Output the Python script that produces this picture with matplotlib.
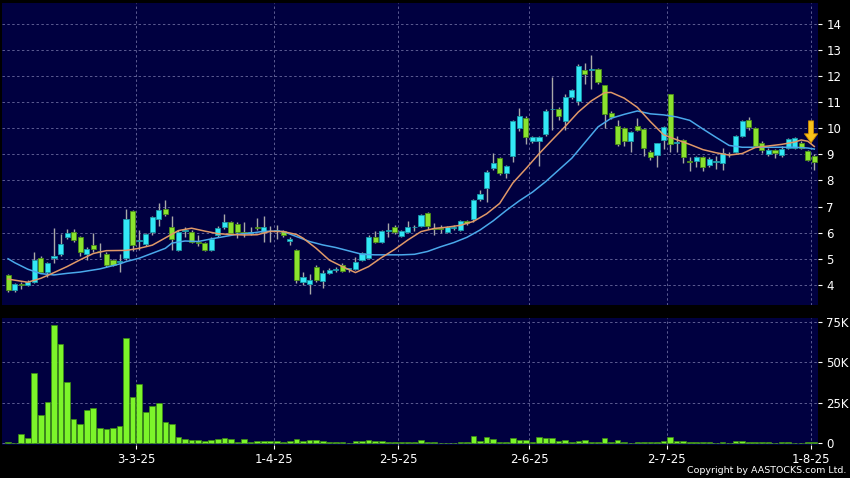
import numpy as np
import pandas as pd
import matplotlib
matplotlib.use("Agg")
import matplotlib.pyplot as plt

# HK trading days 3 Feb - 1 Aug 2025
holidays = ["2025-04-04", "2025-04-18", "2025-04-21", "2025-05-01", "2025-05-05", "2025-07-01"]
dates = pd.bdate_range("2025-02-03", "2025-08-01", freq="C", holidays=holidays)

opens = [4.36, 3.81, 4.05, 3.98, 4.10, 5.02, 4.51, 5.02, 5.18, 5.82,
         6.01, 5.83, 5.18, 5.51, 5.30, 5.18, 4.94, 4.87, 5.02, 6.84,
         5.68, 5.58, 6.02, 6.53, 6.90, 6.20, 5.34, 6.06, 6.02, 5.64,
         5.60, 5.34, 5.92, 6.20, 6.39, 6.32, 6.00, 6.00, 6.23, 6.02,
         6.05, 6.06, 6.07, 5.69, 5.34, 4.10, 4.04, 4.70, 4.13, 4.45,
         4.56, 4.77, 4.60, 4.60, 4.96, 5.02, 5.85, 5.66, 6.08, 6.20,
         5.88, 6.04, 6.20, 6.24, 6.75, 6.16, 6.16, 6.04, 6.18, 6.11,
         6.45, 6.52, 7.28, 7.70, 8.47, 8.85, 8.28, 8.92, 10.00, 10.39,
         9.52, 9.52, 9.78, 10.72, 10.73, 10.26, 11.19, 11.05, 12.21, 12.24,
         12.26, 11.64, 10.58, 10.10, 10.02, 9.51, 10.10, 9.97, 9.08, 8.97,
         9.56, 11.30, 9.44, 9.53, 8.74, 8.73, 8.89, 8.60, 8.72, 8.66,
         9.00, 9.08, 9.72, 10.32, 10.00, 9.43, 9.02, 9.15, 8.98, 9.24,
         9.24, 9.43, 9.11, 8.94]
highs = [4.41, 4.06, 4.10, 4.19, 5.25, 5.09, 4.89, 6.18, 5.95, 6.15,
         6.15, 5.88, 5.45, 6.00, 5.60, 5.25, 5.00, 5.20, 6.90, 6.86,
         6.10, 6.00, 6.62, 7.13, 7.26, 6.65, 6.10, 6.20, 6.10, 5.90,
         5.65, 5.85, 6.25, 6.70, 6.45, 6.40, 6.40, 6.20, 6.55, 6.62,
         6.25, 6.30, 6.12, 5.85, 5.36, 4.50, 4.40, 4.75, 4.58, 4.65,
         4.70, 4.82, 4.65, 5.08, 5.25, 5.90, 6.05, 6.10, 6.35, 6.30,
         6.10, 6.45, 6.30, 6.70, 6.78, 6.35, 6.30, 6.25, 6.30, 6.50,
         6.50, 7.30, 7.64, 8.40, 9.04, 8.90, 8.60, 10.30, 10.77, 10.45,
         9.72, 9.70, 10.72, 11.95, 10.80, 11.30, 11.50, 12.45, 12.50, 12.81,
         12.30, 11.65, 10.65, 10.30, 10.05, 9.90, 10.40, 10.00, 9.15, 9.42,
         10.10, 11.32, 9.70, 9.60, 8.90, 8.95, 8.95, 8.90, 8.95, 9.24,
         9.10, 9.75, 10.30, 10.42, 10.05, 9.50, 9.25, 9.20, 9.30, 9.62,
         9.65, 9.50, 9.15, 9.00]
lows = [3.72, 3.74, 3.85, 3.94, 4.06, 4.45, 4.32, 4.84, 5.10, 5.75,
        5.65, 5.10, 4.95, 5.25, 5.05, 4.70, 4.72, 4.50, 4.95, 5.30,
        5.35, 5.50, 5.90, 6.25, 6.65, 5.35, 5.30, 5.85, 5.60, 5.50,
        5.30, 5.30, 5.85, 6.15, 5.90, 5.80, 5.85, 5.90, 6.10, 5.66,
        5.65, 5.75, 5.85, 5.53, 4.06, 4.00, 3.64, 4.10, 3.87, 4.40,
        4.50, 4.50, 4.50, 4.55, 4.90, 4.98, 5.60, 5.60, 5.85, 5.95,
        5.85, 6.00, 6.05, 6.20, 6.15, 5.90, 6.00, 6.00, 6.10, 6.05,
        6.30, 6.40, 7.20, 7.19, 8.40, 8.20, 8.10, 8.72, 9.90, 9.39,
        9.45, 8.55, 9.70, 9.95, 10.30, 9.95, 11.10, 10.90, 11.70, 11.50,
        11.70, 10.00, 10.35, 9.30, 9.30, 9.10, 9.90, 8.95, 8.80, 8.52,
        9.20, 9.10, 9.10, 8.65, 8.35, 8.50, 8.35, 8.50, 8.45, 8.40,
        8.90, 9.05, 9.65, 9.95, 9.30, 9.05, 8.95, 8.85, 8.90, 9.20,
        9.20, 9.20, 8.75, 8.41]
closes = [3.81, 4.03, 3.98, 4.10, 4.96, 4.51, 4.83, 5.11, 5.56, 5.98,
          5.70, 5.26, 5.37, 5.37, 5.28, 4.76, 4.77, 4.90, 6.52, 5.53,
          5.70, 5.95, 6.58, 6.86, 6.72, 5.75, 6.04, 6.10, 5.63, 5.62,
          5.35, 5.76, 6.17, 6.40, 5.98, 6.02, 5.98, 6.00, 6.17, 6.20,
          6.06, 6.08, 5.92, 5.75, 4.19, 4.29, 4.19, 4.17, 4.45, 4.57,
          4.58, 4.54, 4.62, 4.89, 5.21, 5.83, 5.66, 6.07, 6.10, 6.04,
          6.07, 6.20, 6.22, 6.66, 6.24, 6.14, 6.14, 6.20, 6.20, 6.43,
          6.36, 7.26, 7.47, 8.32, 8.66, 8.28, 8.56, 10.26, 10.45, 9.68,
          9.68, 9.68, 10.67, 10.75, 10.45, 11.18, 11.45, 12.40, 12.08, 12.28,
          11.77, 10.55, 10.41, 9.40, 9.51, 9.87, 9.94, 9.24, 8.89, 9.42,
          10.04, 9.40, 9.46, 8.89, 8.72, 8.89, 8.53, 8.83, 8.74, 9.04,
          9.02, 9.72, 10.26, 10.04, 9.33, 9.17, 9.15, 9.04, 9.20, 9.58,
          9.62, 9.24, 8.79, 8.69]

# volume in thousands of shares
volume_k = [0.4, 0.2, 5.6, 2.9, 43.2, 17.4, 25.6, 73.1, 61.4, 38.0,
            14.9, 11.8, 20.5, 21.7, 9.1, 8.7, 9.3, 10.5, 65.1, 28.7,
            36.4, 19.2, 22.9, 24.6, 12.8, 11.8, 3.7, 2.7, 1.7, 1.9,
            1.2, 1.9, 2.3, 2.9, 2.7, 0.6, 2.5, 0.4, 1.0, 1.4,
            1.0, 1.0, 0.6, 1.2, 2.5, 1.0, 1.6, 1.6, 1.4, 0.8,
            0.4, 0.4, 0.3, 1.4, 1.4, 2.0, 1.4, 1.4, 0.6, 0.6,
            0.4, 0.8, 0.8, 2.0, 0.8, 0.8, 0.2, 0.2, 0.2, 0.8,
            0.8, 4.5, 1.4, 3.5, 2.3, 0.8, 0.4, 2.9, 1.6, 1.6,
            0.8, 3.5, 3.1, 3.1, 1.0, 2.0, 0.6, 1.2, 2.0, 0.8,
            0.6, 3.1, 0.8, 1.6, 0.4, 0.2, 0.4, 0.8, 0.8, 0.8,
            1.0, 3.5, 1.0, 1.0, 0.4, 0.4, 0.4, 0.4, 0.2, 0.6,
            0.2, 1.0, 1.0, 0.4, 0.4, 0.4, 0.4, 0.2, 0.4, 0.6,
            0.2, 0.2, 0.6, 0.4]

# moving averages (bar index, price)
ma_fast_idx = [0, 3, 5, 7, 9, 11, 13, 15, 18, 20, 22, 24, 26, 28, 30, 32, 34, 36, 38, 40,
               42, 44, 45, 47, 49, 51, 53, 55, 57, 59, 61, 63, 65, 67, 69, 71, 73, 75, 77, 79,
               81, 83, 85, 87, 89, 91, 92, 94, 96, 98, 100, 102, 104, 106, 108, 110, 112, 114,
               116, 118, 120, 121, 122, 123]
ma_fast = [4.22, 4.10, 4.25, 4.47, 4.70, 4.96, 5.20, 5.31, 5.32, 5.40, 5.52, 5.80, 6.08, 6.17,
           6.06, 5.96, 5.93, 5.91, 5.92, 6.05, 6.04, 5.93, 5.79, 5.40, 4.95, 4.70, 4.47, 4.70,
           5.05, 5.36, 5.72, 6.04, 6.16, 6.21, 6.28, 6.43, 6.72, 7.12, 7.90, 8.45, 9.02, 9.55,
           10.07, 10.62, 11.05, 11.36, 11.37, 11.15, 10.80, 10.25, 9.75, 9.56, 9.38, 9.18, 9.06,
           8.97, 9.03, 9.26, 9.32, 9.38, 9.47, 9.55, 9.50, 9.30]
ma_slow_idx = [0, 1, 3, 5, 7, 9, 11, 14, 17, 18, 20, 22, 24, 25, 27, 29, 31, 33, 35, 37,
               39, 41, 42, 44, 46, 48, 50, 52, 54, 56, 60, 62, 64, 66, 68, 70, 72, 74, 76, 78,
               80, 82, 84, 86, 88, 90, 92, 94, 96, 98, 100, 102, 104, 106, 108, 110, 112, 116,
               120, 122, 123]
ma_slow = [5.00, 4.85, 4.60, 4.43, 4.38, 4.44, 4.49, 4.61, 4.80, 4.89, 5.02, 5.21, 5.40, 5.60,
           5.68, 5.66, 5.76, 5.85, 5.94, 5.98, 6.05, 6.06, 6.04, 5.85, 5.66, 5.53, 5.43, 5.30,
           5.17, 5.15, 5.15, 5.17, 5.28, 5.46, 5.62, 5.82, 6.10, 6.45, 6.85, 7.22, 7.55, 7.95,
           8.40, 8.85, 9.45, 10.05, 10.38, 10.53, 10.66, 10.55, 10.51, 10.43, 10.30, 9.97, 9.65,
           9.34, 9.27, 9.27, 9.27, 9.24, 9.20]

BG = "#000040"
GRID = "#5c5c92"
UP, UP_EDGE = "#33e8f6", "#1a9aa8"
DOWN, DOWN_EDGE = "#8ae22e", "#4a8c18"

o = np.array(opens)
h = np.array(highs)
l = np.array(lows)
c = np.array(closes)
x = np.arange(len(dates))

# month ticks sit on the left edge of the first bar of each month
first_of_month = [i for i in range(1, len(dates)) if dates[i].month != dates[i - 1].month]
tick_pos = [i - 0.5 for i in first_of_month]
tick_lab = [f"{dates[i].day}-{dates[i].month}-{dates[i].strftime('%y')}" for i in first_of_month]

fig = plt.figure(figsize=(8.5, 4.78), dpi=100, facecolor="black")
ax1 = fig.add_axes([0.0024, 0.362, 0.96, 0.632])
ax2 = fig.add_axes([0.0024, 0.069, 0.96, 0.266])

for ax in (ax1, ax2):
    ax.set_facecolor(BG)
    for s in ax.spines.values():
        s.set_visible(False)
    ax.set_xlim(-0.92, 123.57)
    ax.set_xticks(tick_pos)
    ax.grid(True, color=GRID, linestyle=(0, (2.5, 2.5)), linewidth=0.7)
    ax.set_axisbelow(True)
    ax.yaxis.tick_right()
    ax.tick_params(axis="y", colors="white", labelsize=8.5, length=3, pad=3)

# candles
up = c >= o
ax1.vlines(x, l, h, color="#a8a8a8", linewidth=1, zorder=2)
body = np.maximum(np.abs(c - o), 0.03)
bottom = np.minimum(o, c)
ax1.bar(x[up], body[up], bottom=bottom[up], width=0.78, color=UP,
        edgecolor=UP_EDGE, linewidth=0.6, zorder=3)
ax1.bar(x[~up], body[~up], bottom=bottom[~up], width=0.78, color=DOWN,
        edgecolor=DOWN_EDGE, linewidth=0.6, zorder=3)

ax1.plot(ma_slow_idx, ma_slow, color="#4aa8ea", linewidth=1.1, zorder=4)
ax1.plot(ma_fast_idx, ma_fast, color="#e09868", linewidth=1.1, zorder=4)

ax1.annotate("", xy=(122.5, 9.44), xytext=(122.5, 10.28),
             arrowprops=dict(facecolor="#f7c21a", edgecolor="#d08a00", linewidth=0.6,
                             width=3.6, headwidth=9.5, headlength=6.5, shrink=0),
             zorder=6)

ax1.set_ylim(3.23, 14.8)
ax1.set_yticks(range(4, 15))
ax1.tick_params(axis="x", length=0, labelbottom=False)

# volume
ax2.bar(x, volume_k, width=0.86, color="#7cf52a", edgecolor="#3c8c14", linewidth=0.5, zorder=3)
ax2.set_ylim(-1.2, 77.5)
ax2.set_yticks([0, 25, 50, 75])
ax2.set_yticklabels(["0", "25K", "50K", "75K"])
ax2.set_xticklabels(tick_lab)
ax2.tick_params(axis="x", colors="white", labelsize=8.5, length=3, pad=3)

fig.text(0.996, 0.006, "Copyright by AASTOCKS.com Ltd.", ha="right", va="bottom",
         color="white", fontsize=6.8)

plt.savefig("out.png", dpi=100, facecolor="black")
